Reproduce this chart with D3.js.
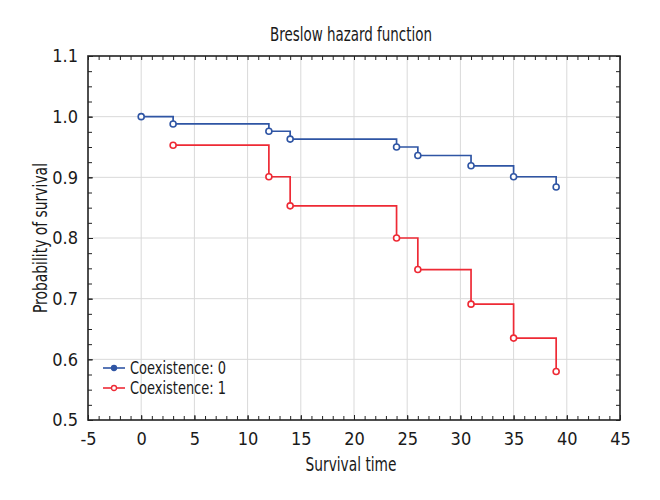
<!DOCTYPE html>
<html>
<head>
<meta charset="utf-8">
<script src="https://cdn.jsdelivr.net/npm/d3@7"></script>
<style>
  html, body { margin: 0; padding: 0; background: #fff; }
  svg { display: block; }
  text { font-family: "DejaVu Sans Condensed", "Liberation Sans Narrow", sans-serif; fill: #1a1a1a; }
</style>
</head>
<body>
<svg id="chart" width="660" height="500"></svg>
<script>
const title = "Breslow hazard function";
const xTitle = "Survival time";
const yTitle = "Probability of survival";
const seriesNames = ["Coexistence: 0", "Coexistence: 1"];
const seriesColors = ["#2f55a4", "#ee2a35"];
const time0 = [0, 3, 12, 14, 24, 26, 31, 35, 39];
const surv0 = [1.0, 0.988, 0.976, 0.963, 0.950, 0.936, 0.919, 0.901, 0.884];
const time1 = [3, 12, 14, 24, 26, 31, 35, 39];
const surv1 = [0.953, 0.901, 0.853, 0.800, 0.748, 0.691, 0.635, 0.580];
const xTicks = [-5, 0, 5, 10, 15, 20, 25, 30, 35, 40, 45];
const yTicks = [0.5, 0.6, 0.7, 0.8, 0.9, 1.0, 1.1];

const svg = d3.select("#chart");
const m = {left: 88, right: 620, top: 56, bottom: 420};
const x = d3.scaleLinear().domain([-5, 45]).range([m.left, m.right]);
const y = d3.scaleLinear().domain([0.5, 1.1]).range([m.bottom, m.top]);

// gridlines
const grid = svg.append("g");
grid.selectAll("line.gx").data(xTicks.slice(1, -1)).enter().append("line")
  .attr("x1", d => x(d)).attr("x2", d => x(d)).attr("y1", m.top).attr("y2", m.bottom)
  .attr("stroke", "#d9d9d9").attr("stroke-width", 1);
grid.selectAll("line.gy").data(yTicks.slice(1, -1)).enter().append("line")
  .attr("y1", d => y(d)).attr("y2", d => y(d)).attr("x1", m.left).attr("x2", m.right)
  .attr("stroke", "#d9d9d9").attr("stroke-width", 1);

const minorX = d3.range(-5, 45.001, 1);
const minorY = d3.range(0.5, 1.1001, 0.025);
const fontSize = 18;
const xFmt = d => String(d);

const gB = svg.append("g").attr("transform", `translate(0,${m.bottom})`)
  .call(d3.axisBottom(x).tickValues(minorX).tickSize(-4).tickFormat(""));
const gB2 = svg.append("g").attr("transform", `translate(0,${m.bottom})`)
  .call(d3.axisBottom(x).tickValues(xTicks).tickSize(-5).tickPadding(12).tickFormat(xFmt));
const gT = svg.append("g").attr("transform", `translate(0,${m.top})`)
  .call(d3.axisTop(x).tickValues(minorX).tickSize(-4).tickFormat(""));
const gL = svg.append("g").attr("transform", `translate(${m.left},0)`)
  .call(d3.axisLeft(y).tickValues(minorY).tickSize(-4).tickFormat(""));
const gL2 = svg.append("g").attr("transform", `translate(${m.left},0)`)
  .call(d3.axisLeft(y).tickValues(yTicks).tickSize(-5).tickPadding(10).tickFormat(d3.format(".1f")));
const gR = svg.append("g").attr("transform", `translate(${m.right},0)`)
  .call(d3.axisRight(y).tickValues(minorY).tickSize(-4).tickFormat(""));

[gB, gB2, gT, gL, gL2, gR].forEach(g => {
  g.select(".domain").remove();
  g.selectAll(".tick line").attr("stroke", "#222").attr("stroke-width", 1);
  g.selectAll("text").attr("font-size", fontSize).attr("fill", "#1a1a1a")
    .style("font-family", '"DejaVu Sans Condensed", sans-serif');
});

// frame
svg.append("rect").attr("x", m.left).attr("y", m.top)
  .attr("width", m.right - m.left).attr("height", m.bottom - m.top)
  .attr("fill", "none").attr("stroke", "#222").attr("stroke-width", 1.6);

// series
const series = [
  {t: time0, s: surv0, color: seriesColors[0]},
  {t: time1, s: surv1, color: seriesColors[1]}
];
const line = d3.line().x(d => x(d[0])).y(d => y(d[1])).curve(d3.curveStepAfter);
series.forEach(sr => {
  const pts = sr.t.map((t, i) => [t, sr.s[i]]);
  svg.append("path").datum(pts).attr("d", line)
    .attr("fill", "none").attr("stroke", sr.color).attr("stroke-width", 1.7);
  svg.append("g").selectAll("circle").data(pts).enter().append("circle")
    .attr("cx", d => x(d[0])).attr("cy", d => y(d[1])).attr("r", 3)
    .attr("fill", "#fff").attr("stroke", sr.color).attr("stroke-width", 1.6);
});

// legend
const lg = svg.append("g");
seriesNames.forEach((name, i) => {
  const yy = 368 + i * 20;
  lg.append("line").attr("x1", 103).attr("x2", 125).attr("y1", yy).attr("y2", yy)
    .attr("stroke", seriesColors[i]).attr("stroke-width", 1.6);
  lg.append("circle").attr("cx", 114).attr("cy", yy).attr("r", 2.5)
    .attr("fill", i === 0 ? seriesColors[i] : "#fff").attr("stroke", seriesColors[i]).attr("stroke-width", 1.3);
  lg.append("text").attr("x", 130).attr("y", yy + 6).attr("font-size", 17.5)
    .attr("textLength", 96).attr("lengthAdjust", "spacingAndGlyphs").text(name);
});

// titles
svg.append("text").attr("x", 351).attr("y", 41).attr("text-anchor", "middle")
  .attr("font-size", 19).attr("textLength", 162).attr("lengthAdjust", "spacingAndGlyphs").text(title);
svg.append("text").attr("x", 351).attr("y", 471).attr("text-anchor", "middle")
  .attr("font-size", 19).attr("textLength", 91).attr("lengthAdjust", "spacingAndGlyphs").text(xTitle);
svg.append("text").attr("transform", `translate(47,${(m.top + m.bottom) / 2}) rotate(-90)`)
  .attr("text-anchor", "middle").attr("font-size", 19)
  .attr("textLength", 150).attr("lengthAdjust", "spacingAndGlyphs").text(yTitle);
</script>
</body>
</html>
